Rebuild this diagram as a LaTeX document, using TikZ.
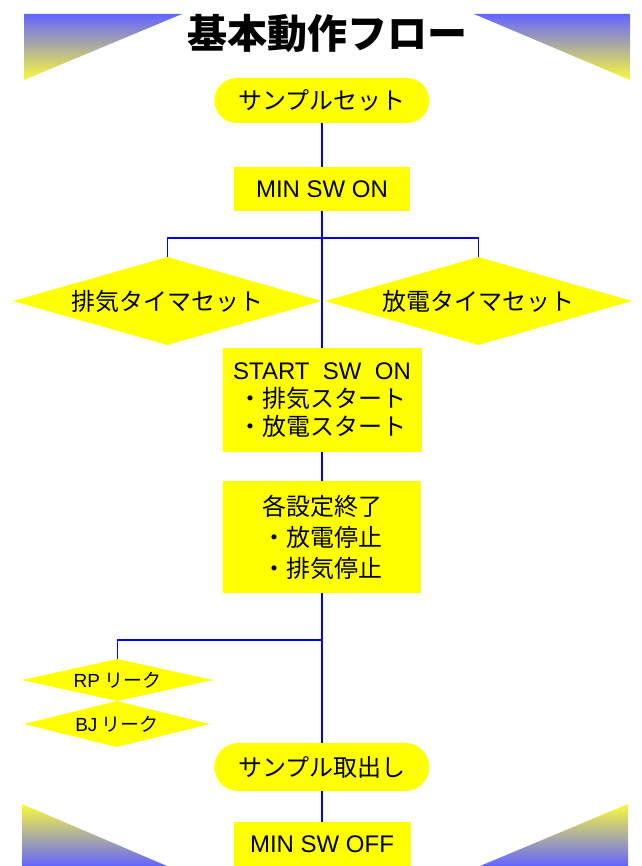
\documentclass[tikz,border=0pt]{standalone}
\usepackage{fontspec}
\setmainfont{Noto Sans CJK JP}
\newfontfamily\lat{Liberation Sans}
\usetikzlibrary{shapes.geometric,shapes.misc}
\definecolor{fillyel}{RGB}{255,255,0}
\definecolor{gblue}{RGB}{100,100,255}
\definecolor{gyel}{RGB}{250,250,60}
\definecolor{linkblue}{RGB}{0,0,255}
\begin{document}
\begin{tikzpicture}[x=1pt,y=-1pt,
  stepbox/.style={rectangle,fill=fillyel,inner sep=0pt,align=center,font=\fontsize{24}{28}\selectfont},
  capsule/.style={rounded rectangle,fill=fillyel,inner sep=0pt,font=\fontsize{24}{28}\selectfont},
  decide/.style={diamond,fill=fillyel,inner sep=0pt,font=\fontsize{24}{28}\selectfont},
  smalldecide/.style={diamond,fill=fillyel,inner sep=0pt,font=\fontsize{19}{22}\selectfont},
  link/.style={draw=linkblue,line width=1.5pt}]
\useasboundingbox (0,0) rectangle (641,866);
\clip (0,0) rectangle (641,866);
\fill[white] (0,0) rectangle (641,866);
% corner gradient triangles
\shade[top color=gblue,bottom color=gyel] (24,14) -- (182,14) -- (24,80) -- cycle;
\shade[top color=gblue,bottom color=gyel] (474,14) -- (630,14) -- (630,80) -- cycle;
\shade[top color=gyel,bottom color=gblue] (22,804) -- (22,866) -- (167,866) -- cycle;
\shade[top color=gyel,bottom color=gblue] (628,804) -- (628,866) -- (480,866) -- cycle;
% title
\node[font=\fontsize{40}{44}\selectfont\bfseries] (title) at (327,33) {基本動作フロー};
% nodes
\node[capsule,minimum width=215pt,minimum height=45pt] (set) at (322,100.5) {サンプルセット};
\node[stepbox,minimum width=176pt,minimum height=44pt] (minon) at (322,189) {\lat MIN SW ON};
\node[decide,minimum width=309pt,minimum height=88pt,aspect=3.5] (exh) at (167.5,301) {排気タイマセット};
\node[decide,minimum width=307pt,minimum height=88pt,aspect=3.5] (dis) at (478.5,301) {放電タイマセット};
\node[stepbox,minimum width=199pt,minimum height=104pt,font=\fontsize{24}{28}\selectfont] (start) at (322,400) {{\lat START\ \ SW\ \ ON}\\・排気スタート\\・放電スタート};
\node[stepbox,minimum width=198pt,minimum height=112pt,font=\fontsize{24}{31}\selectfont] (fin) at (322,537) {各設定終了\\・放電停止\\・排気停止};
\node[smalldecide,minimum width=191pt,minimum height=42pt,aspect=4.5] (rp) at (117.5,680) {{\lat RP} リーク};
\node[smalldecide,minimum width=186pt,minimum height=46pt,aspect=4] (bj) at (117,724) {{\lat BJ} リーク};
\node[capsule,minimum width=215pt,minimum height=48pt] (take) at (322,767) {サンプル取出し};
\node[stepbox,minimum width=177pt,minimum height=44pt] (minoff) at (322,844) {\lat MIN SW OFF};
% branch points
\coordinate (br1) at (322,238);
\coordinate (br2) at (322,640);
% connectors
\draw[link] (set.south) -- (minon.north);
\draw[link] (minon.south) -- (start.north);
\draw[link] (exh.north) -- (exh.north |- br1) -- (dis.north |- br1) -- (dis.north);
\draw[link] (start.south) -- (fin.north);
\draw[link] (fin.south) -- (take.north);
\draw[link] (br2) -| (rp.north);
\draw[link] (take.south) -- (minoff.north);
\end{tikzpicture}
\end{document}
